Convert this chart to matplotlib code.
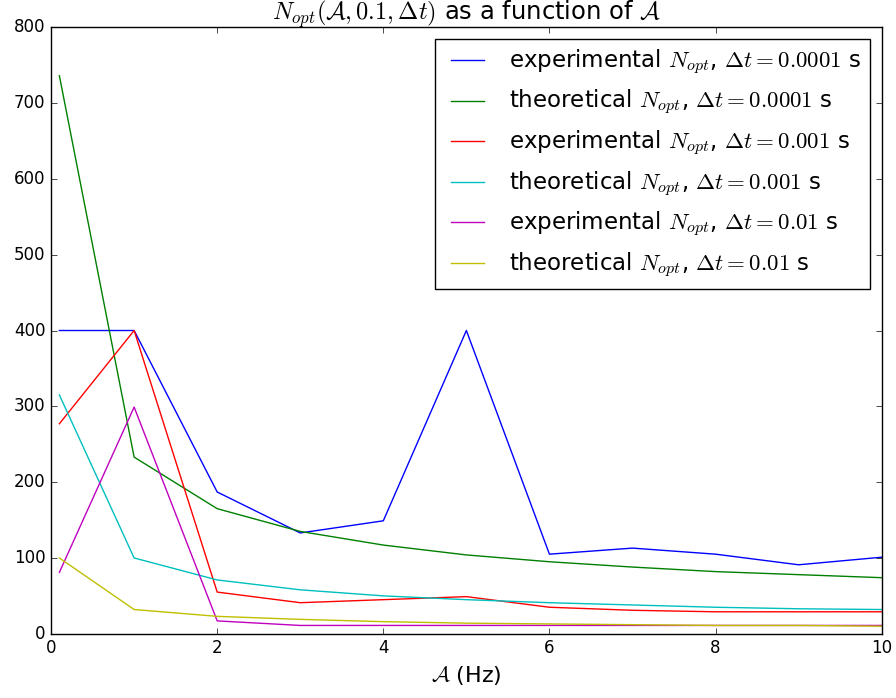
import matplotlib
matplotlib.use("Agg")
import matplotlib.pyplot as plt

plt.style.use("classic")

# frequencies A (Hz)
freqs = [0.1, 1, 2, 3, 4, 5, 6, 7, 8, 9, 10]

# dt = 0.0001 s
exp_1e4 = [400, 400, 187, 133, 149, 400, 105, 113, 105, 91, 101]
th_1e4 = [736, 233, 165, 135, 117, 104, 95, 88, 82, 78, 74]
# dt = 0.001 s
exp_1e3 = [277, 400, 55, 41, 45, 49, 35, 31, 29, 29, 29]
th_1e3 = [315, 100, 71, 58, 50, 45, 41, 38, 35, 33, 32]
# dt = 0.01 s
exp_1e2 = [81, 299, 17, 11, 11, 11, 11, 11, 11, 11, 11]
th_1e2 = [100, 32, 23, 19, 16, 14, 13, 12, 11, 11, 10]

fig = plt.figure(figsize=(8.96, 6.98), dpi=100, facecolor="white")
ax = fig.add_axes([0.057, 0.092, 0.927, 0.869])

ax.plot(freqs, exp_1e4, "b-", label=r"experimental $N_{opt}$, $\Delta t = 0.0001$ s")
ax.plot(freqs, th_1e4, "g-", label=r"theoretical $N_{opt}$, $\Delta t = 0.0001$ s")
ax.plot(freqs, exp_1e3, "r-", label=r"experimental $N_{opt}$, $\Delta t = 0.001$ s")
ax.plot(freqs, th_1e3, "c-", label=r"theoretical $N_{opt}$, $\Delta t = 0.001$ s")
ax.plot(freqs, exp_1e2, "m-", label=r"experimental $N_{opt}$, $\Delta t = 0.01$ s")
ax.plot(freqs, th_1e2, "y-", label=r"theoretical $N_{opt}$, $\Delta t = 0.01$ s")

ax.set_xlim(0, 10)
ax.set_ylim(0, 800)
ax.set_xlabel(r"$\mathcal{A}$ (Hz)", fontsize=16)
ax.set_title(r"$N_{opt}(\mathcal{A}, 0.1, \Delta t)$ as a function of $\mathcal{A}$", fontsize=17.5)
ax.legend(loc="upper right", fontsize=16.5)

fig.savefig("out.png", dpi=100, facecolor="white")
